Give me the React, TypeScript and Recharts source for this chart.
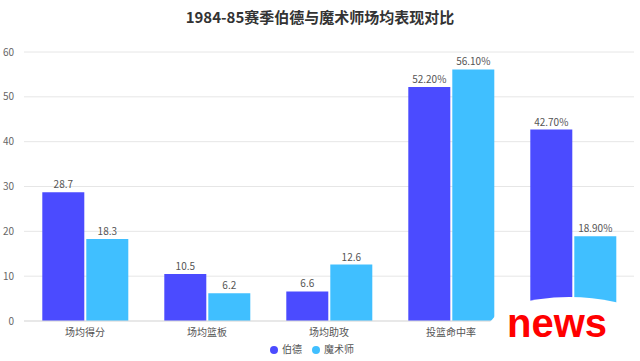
import React from 'react'
import { BarChart, Bar, XAxis, YAxis, CartesianGrid, Legend, LabelList } from 'recharts'

const categories = ['场均得分', '场均篮板', '场均助攻', '投篮命中率', '三分命中率']
const birdValues = [28.7, 10.5, 6.6, 52.2, 42.7]
const magicValues = [18.3, 6.2, 12.6, 56.1, 18.9]
const percentCategories = ['投篮命中率', '三分命中率']
const yTicks = [0, 10, 20, 30, 40, 50, 60]

const BIRD = '#4B4BFF'
const MAGIC = '#40BFFF'
const FONT = '"Noto Sans CJK SC", "Noto Sans", sans-serif'

const data = categories.map((name, i) => ({ name, bird: birdValues[i], magic: magicValues[i] }))

const fmt = (cat: string, v: number) =>
  percentCategories.includes(cat) ? `${v.toFixed(2)}%` : `${v}`

function makeLabel(key: 'bird' | 'magic') {
  return (props: any) => {
    const { x, y, width, index } = props
    const d = data[index]
    return (
      <text x={x + width / 2} y={y - 4} textAnchor="middle" fontSize={10} fill="#555" fontFamily={FONT}>
        {fmt(d.name, d[key])}
      </text>
    )
  }
}

export default function App() {
  return (
    <div style={{ position: 'absolute', left: 0, top: 0, width: 640, height: 361, background: '#fff', fontFamily: FONT }}>
      <div style={{ position: 'absolute', left: 0, top: 6, width: 640, textAlign: 'center', fontSize: 15, fontWeight: 700, color: '#333' }}>
        1984-85赛季伯德与魔术师场均表现对比
      </div>
      <BarChart width={640} height={361} data={data} margin={{ top: 52, right: 6, left: 0, bottom: 7 }}
        barCategoryGap="15%" barGap={2}>
        <CartesianGrid vertical={false} stroke="#e6e6e6" />
        <XAxis dataKey="name" height={20} tickLine={false} axisLine={{ stroke: '#ddd' }}
          tick={{ fontSize: 10, fill: '#555', fontFamily: FONT }} interval={0} />
        <YAxis width={24} domain={[0, 60]} ticks={yTicks} tickLine={false} axisLine={false}
          tick={{ fontSize: 10, fill: '#666', fontFamily: FONT }} tickMargin={4} />
        <Legend verticalAlign="bottom" height={13} iconType="circle" iconSize={8}
          formatter={(v: string) => <span style={{ color: '#555' }}>{v}</span>}
          wrapperStyle={{ fontSize: 10, fontFamily: FONT }} />
        <Bar dataKey="bird" name="伯德" fill={BIRD} isAnimationActive={false}>
          <LabelList dataKey="bird" content={makeLabel('bird')} />
        </Bar>
        <Bar dataKey="magic" name="魔术师" fill={MAGIC} isAnimationActive={false}>
          <LabelList dataKey="magic" content={makeLabel('magic')} />
        </Bar>
      </BarChart>
      <svg width={640} height={361} style={{ position: 'absolute', left: 0, top: 0, pointerEvents: 'none' }}>
        <path d="M 490 322 L 503 307 Q 560 290 615 302 L 640 308 L 640 361 L 490 361 Z" fill="#fff" />
        <text x={557} y={337} textAnchor="middle" fontSize={40} fontWeight={700} fill="#ff0000"
          fontFamily='"Liberation Sans", Arial, sans-serif'>news</text>
      </svg>
    </div>
  )
}
